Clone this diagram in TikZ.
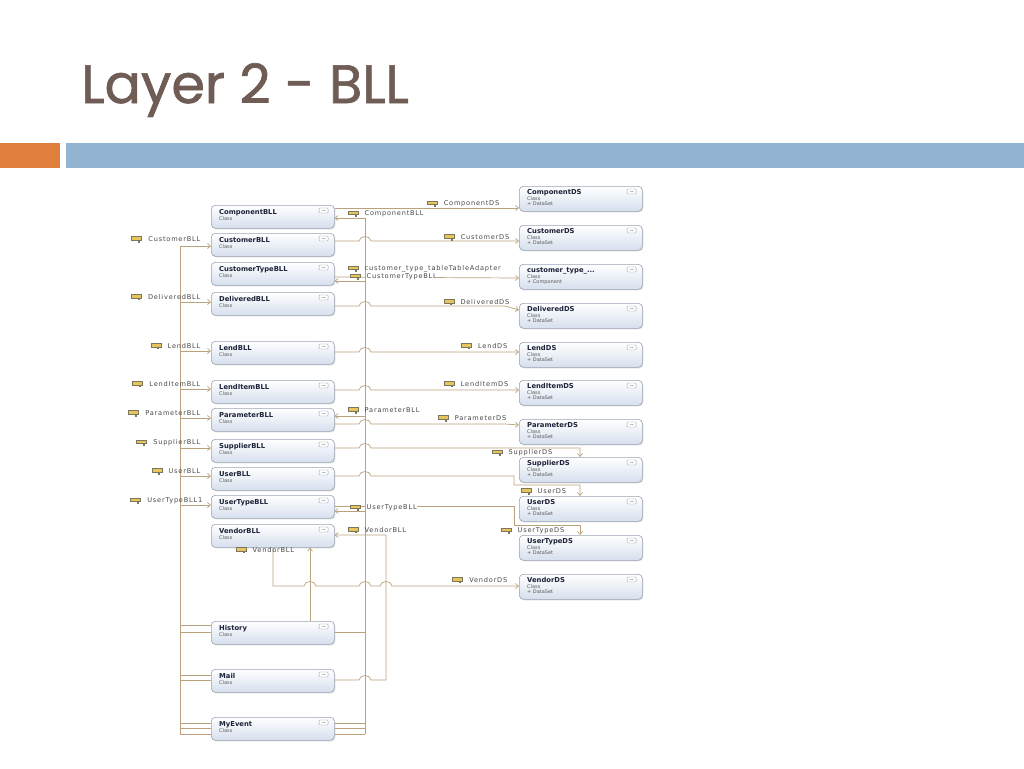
\documentclass[tikz,border=0pt]{standalone}
\usepackage{fontspec}
\setmainfont{DejaVu Sans}
\newfontfamily\ttlfont[FakeBold=1.2]{Poppins}
\newfontfamily\lblfont[LetterSpace=12]{DejaVu Sans}
\newfontfamily\boxfont{DejaVu Sans}
\usetikzlibrary{arrows.meta,calc,shadows}
\definecolor{ttl}{HTML}{6F5D55}
\definecolor{orng}{HTML}{E07E3C}
\definecolor{blu}{HTML}{93B5D3}
\definecolor{ln}{HTML}{BBA27F}
\definecolor{bxb}{HTML}{D6DFEE}
\definecolor{bxd}{HTML}{9AA4B4}
\definecolor{navy}{HTML}{1C2238}
\definecolor{propc}{HTML}{E6C55A}
\definecolor{propd}{HTML}{7C7560}
\tikzset{
  classbox/.style={draw=bxd, line width=0.6pt, rounded corners=4pt,
    top color=white, bottom color=bxb, minimum width=123pt, inner sep=0pt,
    anchor=north west, drop shadow={shadow xshift=1pt, shadow yshift=-1pt, opacity=0.25}},
  btitle/.style={font=\boxfont\bfseries\fontsize{6.8}{7}\selectfont, text=navy, anchor=base west, inner sep=0pt},
  bsub/.style={font=\boxfont\fontsize{5}{5.5}\selectfont, text=black!65, anchor=base west, inner sep=0pt},
  collapse/.style={draw=bxd, fill=white, rounded corners=1pt, minimum width=9pt, minimum height=5pt,
    inner sep=0pt, line width=0.4pt,
    path picture={\draw[bxd!60!black, line width=0.3pt]
      ([xshift=-2pt,yshift=-0.6pt]path picture bounding box.center) -- ++(2pt,1.2pt) -- ++(2pt,-1.2pt);}},
  lbl/.style={font=\lblfont\fontsize{6.6}{7}\selectfont, text=black!72, inner sep=0.5pt},
  propicon/.style={rectangle, minimum width=10pt, minimum height=3.5pt, inner sep=0pt,
    fill=propc, draw=propd, line width=0.3pt, anchor=east},
  assoc/.style={draw=ln, line width=0.7pt},
  arr/.style={assoc, -{Straight Barb[length=3pt,width=5pt]}},
}
\newcommand\hop[2]{-- ({#1-6},#2) .. controls ({#1-5},{#2-6}) and ({#1+5},{#2-6}) .. ({#1+6},#2)}
\newcommand\BLL[3]{%
  \node[classbox, minimum height=23pt] (#1) at (211,#2) {};
  \node[btitle] (#1-t) at ($(#1.north west)+(8,9)$) {#3};
  \node[bsub] (#1-c) at ($(#1.north west)+(8,15)$) {Class};
  \node[collapse] (#1-x) at ($(#1.north east)+(-11,5.5)$) {};
}
\newcommand\DS[4]{%
  \node[classbox, minimum height=25pt] (#1) at (519,#2) {};
  \node[btitle] (#1-t) at ($(#1.north west)+(8,8.5)$) {#3};
  \node[bsub] (#1-c) at ($(#1.north west)+(8,14)$) {Class};
  \node[bsub] (#1-m) at ($(#1.north west)+(8,19.5)$) {#4};
  \node[collapse] (#1-x) at ($(#1.north east)+(-11,5.5)$) {};
}
\newcommand\Prop[2]{%
  \node[propicon] (#1) at #2 {};
  \fill[propd] ($(#1.south east)+(-3.5,0)$) rectangle ++(2,2.5);
}
\begin{document}
\begin{tikzpicture}[x=1pt,y=-1pt]
\useasboundingbox (0,0) rectangle (1024,768);
\fill[white] (0,0) rectangle (1024,768);

% title and bars
\node[anchor=base west, inner sep=0pt, text=ttl, font=\ttlfont\fontsize{54}{60}\selectfont] (title) at (81,103) {Layer 2 - BLL};
\fill[orng] (0,143) rectangle (60,168);
\fill[blu] (66,143) rectangle (1024,168);

% trunk coordinates
\coordinate (rtop) at (365,218);
\coordinate (rbot) at (365,734);
\coordinate (ltop) at (180,246);
\coordinate (lbot) at (180,734);

% ---------- boxes ----------
\BLL{cbll}{205}{ComponentBLL}
\BLL{cubll}{233}{CustomerBLL}
\BLL{ctbll}{262}{CustomerTypeBLL}
\BLL{dbll}{292}{DeliveredBLL}
\BLL{lbll}{341}{LendBLL}
\BLL{libll}{380}{LendItemBLL}
\BLL{pbll}{408}{ParameterBLL}
\BLL{sbll}{439}{SupplierBLL}
\BLL{ubll}{467}{UserBLL}
\BLL{utbll}{495}{UserTypeBLL}
\BLL{vbll}{524}{VendorBLL}
\BLL{hist}{621}{History}
\BLL{mail}{669}{Mail}
\BLL{myev}{717}{MyEvent}

\DS{cds}{186}{ComponentDS}{+ DataSet}
\DS{cuds}{225}{CustomerDS}{+ DataSet}
\DS{ctds}{264}{customer\_type\_...}{+ Component}
\DS{dds}{303}{DeliveredDS}{+ DataSet}
\DS{lds}{342}{LendDS}{+ DataSet}
\DS{lids}{380}{LendItemDS}{+ DataSet}
\DS{pds}{419}{ParameterDS}{+ DataSet}
\DS{sds}{457}{SupplierDS}{+ DataSet}
\DS{uds}{496}{UserDS}{+ DataSet}
\DS{utds}{535}{UserTypeDS}{+ DataSet}
\DS{vds}{574}{VendorDS}{+ DataSet}

% ---------- connectors ----------
% left trunk
\draw[assoc] (ltop) -- (lbot);
\draw[arr] (ltop) -- ($(cubll.north west)+(0,13)$);
\draw[arr] (180,302) -- ($(dbll.north west)+(0,10)$);
\draw[arr] (180,351) -- ($(lbll.north west)+(0,10)$);
\draw[arr] (180,389) -- ($(libll.north west)+(0,9)$);
\draw[arr] (180,418) -- ($(pbll.north west)+(0,10)$);
\draw[arr] (180,448) -- ($(sbll.north west)+(0,9)$);
\draw[arr] (180,476) -- ($(ubll.north west)+(0,9)$);
\draw[arr] (180,505) -- ($(utbll.north west)+(0,10)$);
\draw[assoc] (180,625) -- ($(hist.north west)+(0,4)$);
\draw[assoc] (180,632) -- ($(hist.north west)+(0,11)$);
\draw[assoc] (180,675) -- ($(mail.north west)+(0,6)$);
\draw[assoc] (180,680) -- ($(mail.north west)+(0,11)$);
\draw[assoc] (180,723) -- ($(myev.north west)+(0,6)$);
\draw[assoc] (180,728) -- ($(myev.north west)+(0,11)$);
\draw[assoc] (lbot) -- ($(myev.north west)+(0,17)$);

% right trunk
\draw[arr] (rbot) -- (rtop) -- ($(cbll.north east)+(0,13)$);
\draw[assoc] ($(myev.north east)+(0,6)$) -- ++(31,0);
\draw[assoc] ($(myev.north east)+(0,11)$) -- ++(31,0);
\draw[assoc] ($(myev.north east)+(0,17)$) -- (rbot);
\draw[assoc] ($(hist.north east)+(0,11)$) -- ++(31,0);
\draw[arr] (365,281) -- ($(ctbll.north east)+(0,19)$);
\draw[arr] (365,416) -- ($(pbll.north east)+(0,8)$);
\draw[arr] (365,511) -- ($(utbll.north east)+(0,16)$);

% BLL -> DS
\draw[arr] ($(cbll.north east)+(0,3)$) -- ($(cds.north west)+(0,22)$);
\draw[arr] ($(cubll.north east)+(0,8)$) \hop{365}{241} -- ($(cuds.north west)+(0,16)$);
\draw[arr] ($(ctbll.north east)+(0,15)$) -- ($(ctds.north west)+(0,14)$);
\draw[arr] ($(dbll.north east)+(0,14)$) \hop{365}{306} -- (505,306) -- ($(dds.north west)+(0,7)$);
\draw[arr] ($(lbll.north east)+(0,11)$) \hop{365}{352} -- ($(lds.north west)+(0,10)$);
\draw[arr] ($(libll.north east)+(0,10)$) \hop{365}{390} -- ($(lids.north west)+(0,10)$);
\draw[arr] ($(pbll.north east)+(0,16)$) \hop{365}{424} -- (505,424) -- ($(pds.north west)+(0,6)$);
\draw[arr] ($(sbll.north east)+(0,9)$) \hop{365}{448} -- (580,448) -- ($(sds.north west)+(61,0)$);
\draw[arr] ($(ubll.north east)+(0,9)$) \hop{365}{476} -- (514,476) -- (514,485) -- (580,485) -- ($(uds.north west)+(61,0)$);
\draw[arr] ($(utbll.north east)+(0,11)$) -- (514,506) -- (514,525) -- (580,525) -- ($(utds.north west)+(61,0)$);
\draw[arr] ($(vbll.south west)+(62,0)$) -- (273,586) \hop{310}{586} \hop{365}{586} \hop{386}{586} -- ($(vds.north west)+(0,12)$);
\draw[arr] ($(hist.north west)+(99,0)$) -- ($(vbll.south west)+(99,0)$);
\draw[arr] ($(mail.north east)+(0,11)$) \hop{365}{680} -- (386,680) -- (386,535) -- ($(vbll.north east)+(0,11)$);

% ---------- labels ----------
% left labels
\node[lbl, anchor=base east] (l-cubll) at (201,241.5) {CustomerBLL};
\node[lbl, anchor=base east] (l-dbll) at (201,299.5) {DeliveredBLL};
\node[lbl, anchor=base east] (l-lbll) at (201,348.5) {LendBLL};
\node[lbl, anchor=base east] (l-libll) at (201,386.5) {LendItemBLL};
\node[lbl, anchor=base east] (l-pbll) at (201,415.5) {ParameterBLL};
\node[lbl, anchor=base east] (l-sbll) at (201,444.5) {SupplierBLL};
\node[lbl, anchor=base east] (l-ubll) at (201,473.5) {UserBLL};
\node[lbl, anchor=base east] (l-utbll) at (203,502.5) {UserTypeBLL1};
\foreach \n in {cubll,dbll,lbll,libll,pbll,sbll,ubll,utbll}{
  \Prop{i-\n}{($(l-\n.west)+(-6,-1)$)}
}
% labels right of trunk
\node[lbl, anchor=base west] (r-cbll) at (364,215.5) {ComponentBLL};
\node[lbl, anchor=base west] (r-ctad) at (364,270.5) {customer\_type\_tableTableAdapter};
\node[lbl, anchor=base west, fill=white] (r-ctbll) at (366,278.5) {CustomerTypeBLL};
\node[lbl, anchor=base west] (r-pbll) at (364,412.5) {ParameterBLL};
\node[lbl, anchor=base west, fill=white] (r-utbll) at (366,509.5) {UserTypeBLL};
\node[lbl, anchor=base west] (r-vbll) at (364,532.5) {VendorBLL};
\foreach \n in {cbll,ctad,ctbll,pbll,utbll,vbll}{
  \Prop{j-\n}{($(r-\n.west)+(-6,-1)$)}
}
% DS labels
\node[lbl, anchor=base east] (d-cds) at (500,205.5) {ComponentDS};
\node[lbl, anchor=base east] (d-cuds) at (510,239.5) {CustomerDS};
\node[lbl, anchor=base east] (d-dds) at (510,304.5) {DeliveredDS};
\node[lbl, anchor=base east] (d-lds) at (508,348.5) {LendDS};
\node[lbl, anchor=base east] (d-lids) at (509,386.5) {LendItemDS};
\node[lbl, anchor=base east] (d-pds) at (507,420.5) {ParameterDS};
\node[lbl, anchor=base west] (d-sds) at (508,454.5) {SupplierDS};
\node[lbl, anchor=base west] (d-uds) at (537,493.5) {UserDS};
\node[lbl, anchor=base west] (d-utds) at (517,532.5) {UserTypeDS};
\node[lbl, anchor=base east] (d-vds) at (508,582.5) {VendorDS};
\node[lbl, anchor=base west] (d-vbll) at (252,552.5) {VendorBLL};
\foreach \n in {cds,cuds,dds,lds,lids,pds,sds,uds,utds,vds,vbll}{
  \Prop{k-\n}{($(d-\n.west)+(-6,-1)$)}
}
\end{tikzpicture}
\end{document}
